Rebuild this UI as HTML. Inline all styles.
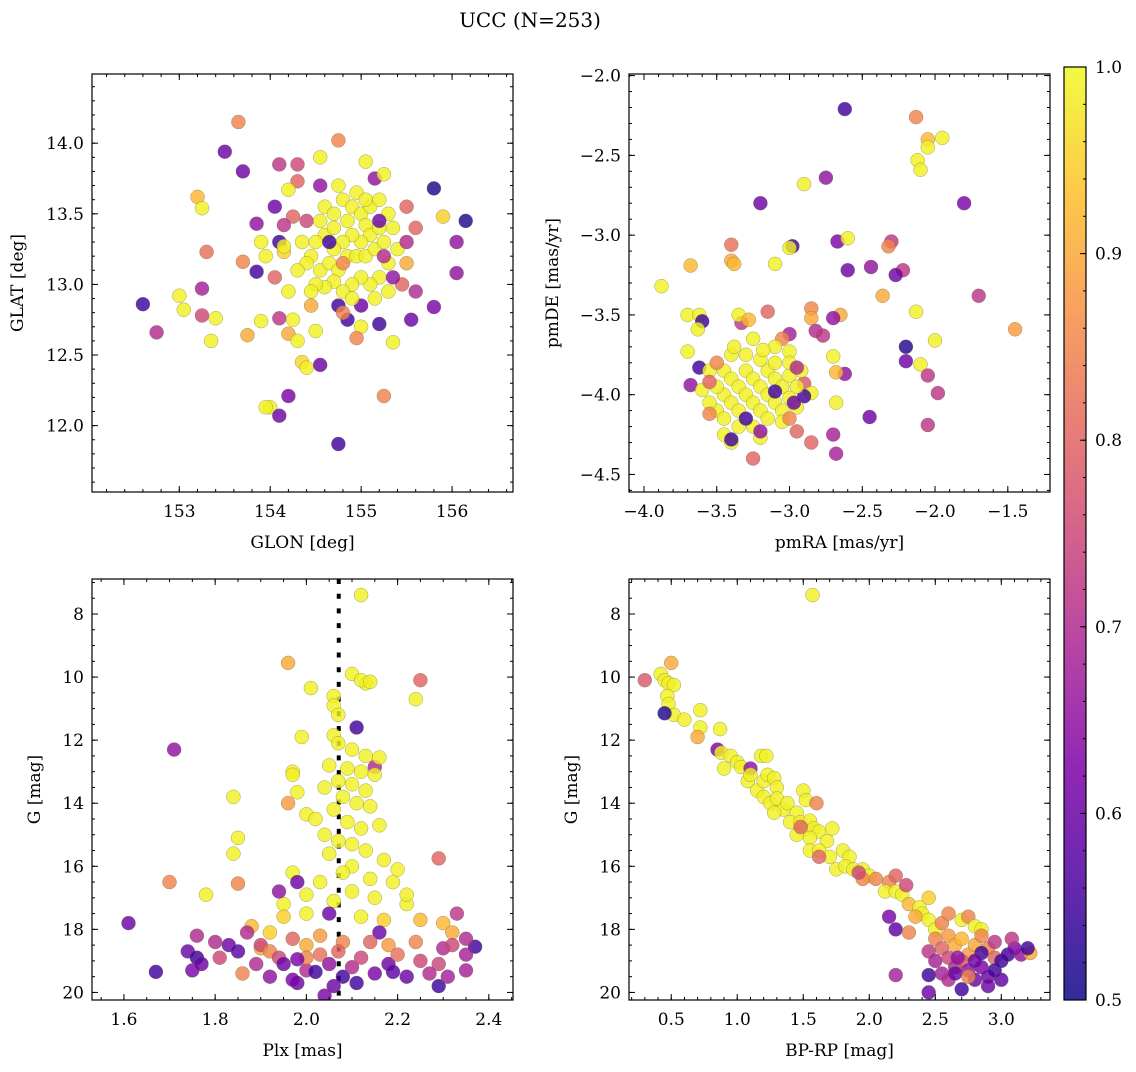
<!DOCTYPE html>
<html><head><meta charset="utf-8">
<style>
html,body{margin:0;padding:0;background:#fff;}
svg text{font-family:"DejaVu Serif","Liberation Serif",serif;fill:#000;}
</style></head>
<body>
<svg id="fig" width="1136" height="1067" viewBox="0 0 1136 1067" xmlns="http://www.w3.org/2000/svg">
<defs>
<linearGradient id="plasmaGrad" x1="0" y1="1" x2="0" y2="0">
<stop offset="0" stop-color="#0d0887"/><stop offset="0.125" stop-color="#4c02a1"/>
<stop offset="0.25" stop-color="#7e03a8"/><stop offset="0.375" stop-color="#a92395"/>
<stop offset="0.5" stop-color="#cc4778"/><stop offset="0.625" stop-color="#e56b5d"/>
<stop offset="0.75" stop-color="#f89441"/><stop offset="0.875" stop-color="#fdc328"/>
<stop offset="1" stop-color="#f0f921"/>
</linearGradient>
</defs>
<text x="530" y="27" font-size="20" text-anchor="middle">UCC (N=253)</text>
<rect x="1064" y="67" width="22" height="933" fill="url(#plasmaGrad)" fill-opacity="0.85" stroke="#000" stroke-width="1.2"/>
</svg>
<script>
// ---------- Panel 1: GLON vs GLAT ----------
const glon = [153.65,153.5,153.7,154.1,154.3,154.75,154.55,155.05,155.15,155.25,155.8,156.15,155.9,156.05,156.05,155.6,155.5,155.5,155.6,155.55,155.8,152.6,152.75,153.0,153.05,153.25,153.25,153.2,153.25,153.3,153.4,153.35,153.7,153.75,153.9,153.85,153.9,153.95,154.05,154.05,154.1,154.2,154.25,154.2,154.3,154.35,154.4,154.5,154.55,154.0,154.1,154.2,153.95,154.75,155.0,154.85,154.95,155.2,155.25,155.35,154.75,155.0,154.55,154.3,154.2,154.25,154.4,154.15,153.85,154.1,154.15,154.15,
154.6,154.7,154.8,154.85,154.9,155.0,155.05,155.1,155.0,154.9,154.8,154.7,154.6,154.5,154.45,154.55,154.65,154.75,154.85,154.95,155.05,155.15,155.2,155.25,155.3,155.2,155.1,155.0,154.9,154.8,154.7,154.6,154.5,154.4,154.35,154.3,154.45,155.35,155.4,155.1,155.2,154.95,154.75,155.3,155.15,154.9,155.05,154.7,154.55,155.3,
154.8,155.25,155.45,155.5,155.35,154.65,155.2,154.45,154.8];
const glat = [14.15,13.94,13.8,13.85,13.85,14.02,13.9,13.87,13.75,13.78,13.68,13.45,13.48,13.3,13.08,13.4,13.55,13.15,12.95,12.75,12.84,12.86,12.66,12.92,12.82,12.97,12.78,13.62,13.54,13.23,12.76,12.6,13.16,12.64,12.74,13.09,13.3,13.2,13.55,13.05,12.76,12.95,12.75,12.65,12.6,12.45,12.41,12.67,12.43,12.13,12.07,12.21,12.13,11.87,12.7,12.75,12.62,12.72,12.21,12.59,12.85,12.85,13.7,13.73,13.67,13.48,13.45,13.42,13.43,13.3,13.23,13.27,
13.55,13.5,13.6,13.45,13.55,13.5,13.42,13.35,13.3,13.35,13.3,13.25,13.35,13.3,13.2,13.1,13.15,13.1,13.2,13.2,13.2,13.25,13.4,13.3,13.15,13.05,13.0,13.05,13.0,12.95,13.02,12.98,13.0,13.15,13.3,13.1,12.95,13.4,13.25,13.55,13.6,13.65,13.7,12.95,12.9,12.9,13.6,13.4,13.45,13.5,
13.15,13.2,13.0,13.3,13.05,13.3,13.45,12.85,12.8];
const prob1 = [0.85,0.6,0.6,0.72,0.75,0.85,0.99,0.99,0.65,0.99,0.52,0.52,0.95,0.65,0.65,0.8,0.8,0.9,0.7,0.6,0.62,0.55,0.7,0.99,0.99,0.68,0.75,0.92,0.99,0.82,0.99,0.99,0.85,0.9,0.99,0.55,0.99,0.99,0.6,0.8,0.72,0.99,0.99,0.9,0.99,0.96,0.99,0.99,0.6,0.99,0.6,0.62,0.99,0.55,0.99,0.55,0.85,0.55,0.85,0.99,0.55,0.6,0.65,0.8,0.99,0.8,0.75,0.72,0.65,0.55,0.95,0.99,
0.99,0.99,0.99,0.99,0.99,0.99,0.99,0.99,0.99,0.99,0.99,0.99,0.99,0.99,0.99,0.99,0.99,0.99,0.99,0.99,0.99,0.99,0.99,0.99,0.99,0.99,0.99,0.99,0.99,0.99,0.99,0.99,0.99,0.99,0.99,0.99,0.99,0.99,0.99,0.99,0.99,0.99,0.99,0.99,0.99,0.99,0.99,0.99,0.99,0.99,
0.85,0.7,0.8,0.7,0.65,0.55,0.6,0.9,0.85];

// ---------- Panel 2: pmRA vs pmDE ----------
const pmra = [-2.62,-2.13,-2.05,-2.05,-1.95,-2.12,-2.1,-2.9,-2.75,-3.2,-1.8,-2.98,-3.4,-3.0,-2.67,-2.6,-2.3,-2.32,-3.4,-3.38,-3.1,-3.68,-2.44,-2.6,-2.22,-2.27,-3.88,-2.36,-1.7,-3.7,-3.62,-3.6,-3.63,-2.13,-2.0,-1.45,-2.2,-2.2,-2.1,-2.05,-1.98,-2.05,-2.45,-2.7,-2.68,-2.85,-2.95,-3.25,-2.85,-2.85,-2.65,-2.7,-2.82,-2.77,-3.15,-3.33,-3.35,-3.28,-3.0,-3.05,-3.0,-2.62,-2.68,-2.7,-2.9,-2.85,-2.9,-2.68,-3.7,-3.68,-3.62,-3.6,
-3.45,-3.4,-3.35,-3.3,-3.25,-3.2,-3.15,-3.1,-3.05,-3.0,-2.95,-3.45,-3.4,-3.35,-3.3,-3.25,-3.2,-3.15,-3.1,-3.05,-3.0,-2.95,-3.5,-3.5,-3.45,-3.35,-3.25,-3.15,-3.05,-3.4,-3.3,-3.2,-3.1,-3.0,-3.55,-3.55,-3.45,-3.4,-3.2,-2.92,-3.1,-3.38,-3.25,-3.18,
-3.55,-3.5,-3.4,-3.3,-3.1,-2.97,-2.95,-3.2,-3.0,-3.55];
const pmde = [-2.21,-2.26,-2.4,-2.45,-2.39,-2.53,-2.59,-2.68,-2.64,-2.8,-2.8,-3.07,-3.06,-3.08,-3.04,-3.02,-3.04,-3.07,-3.16,-3.18,-3.18,-3.19,-3.2,-3.22,-3.22,-3.25,-3.32,-3.38,-3.38,-3.5,-3.5,-3.54,-3.59,-3.48,-3.66,-3.59,-3.7,-3.79,-3.81,-3.88,-3.99,-4.19,-4.14,-4.25,-4.37,-4.3,-4.23,-4.4,-3.46,-3.52,-3.5,-3.52,-3.6,-3.63,-3.48,-3.55,-3.5,-3.53,-3.62,-3.65,-3.73,-3.87,-3.86,-3.76,-3.93,-3.99,-4.01,-4.05,-3.73,-3.94,-3.83,-3.97,
-3.85,-3.9,-3.95,-3.85,-3.9,-3.95,-3.85,-3.9,-3.95,-3.88,-3.95,-4.0,-4.05,-4.1,-4.0,-4.05,-4.1,-4.0,-4.05,-4.1,-4.02,-4.08,-3.95,-4.1,-4.15,-4.2,-4.2,-4.15,-4.17,-3.75,-3.75,-3.78,-3.8,-3.8,-3.85,-4.05,-4.25,-4.3,-4.27,-3.85,-3.7,-3.7,-3.65,-3.72,
-4.12,-3.8,-4.28,-4.15,-3.98,-4.05,-3.83,-4.23,-4.15,-3.92];
const prob2 = [0.55,0.85,0.92,0.99,0.99,0.99,0.99,0.99,0.65,0.6,0.62,0.55,0.82,0.99,0.62,0.99,0.72,0.85,0.9,0.92,0.99,0.92,0.65,0.6,0.72,0.6,0.99,0.9,0.72,0.99,0.99,0.55,0.99,0.99,0.99,0.88,0.52,0.6,0.99,0.72,0.72,0.72,0.6,0.68,0.68,0.8,0.8,0.8,0.85,0.9,0.9,0.65,0.7,0.72,0.8,0.72,0.99,0.92,0.68,0.85,0.99,0.65,0.92,0.99,0.78,0.99,0.55,0.99,0.99,0.65,0.55,0.99,
0.99,0.99,0.99,0.99,0.99,0.99,0.99,0.99,0.99,0.99,0.99,0.99,0.99,0.99,0.99,0.99,0.99,0.99,0.99,0.99,0.99,0.99,0.99,0.99,0.99,0.99,0.99,0.99,0.99,0.99,0.99,0.99,0.99,0.99,0.99,0.99,0.99,0.99,0.99,0.99,0.99,0.99,0.99,0.99,
0.85,0.85,0.55,0.55,0.55,0.6,0.7,0.65,0.85,0.8];

// ---------- Panel 3: Plx vs G ----------
const plx = [2.12,1.96,2.25,2.1,2.13,2.12,2.14,2.01,2.06,2.06,2.07,2.24,2.11,1.99,2.06,1.71,2.15,1.97,1.97,1.84,1.96,1.98,2.0,1.7,1.78,1.85,1.84,1.85,2.29,1.61,1.67,2.29,2.37,
2.07,2.1,2.13,2.16,2.05,2.09,2.12,2.15,2.07,2.1,2.04,2.13,2.08,2.11,2.14,2.06,2.02,2.09,2.12,2.16,2.04,2.07,2.1,2.13,2.05,2.17,2.1,2.08,2.14,2.03,2.19,2.1,2.0,2.15,2.06,2.22,1.97,2.2,1.95,2.0,2.12,2.22,
1.88,1.92,1.95,2.03,2.0,2.08,2.17,2.25,2.3,2.32,2.18,1.9,1.76,1.87,1.94,1.98,2.05,2.16,2.3,2.29,2.35,2.33,2.24,
1.74,1.76,1.8,1.81,1.75,1.77,1.83,1.85,1.86,1.9,1.92,1.94,1.97,1.95,1.92,1.98,2.0,2.03,2.05,2.08,2.06,2.04,2.1,2.12,2.15,2.18,2.2,2.22,2.25,2.27,2.31,2.35,2.35,2.32,2.11,2.02,1.97,1.89,2.0,2.14,2.19,2.07,1.98];
const gmag3 = [7.4,9.55,10.1,9.9,10.2,10.1,10.15,10.35,10.6,10.9,11.2,10.7,11.6,11.9,11.85,12.3,12.85,13.0,13.1,13.8,14.0,13.65,14.35,16.5,16.9,15.1,15.6,16.55,15.75,17.8,19.35,19.8,18.55,
12.1,12.3,12.5,12.55,12.8,12.9,13.0,13.1,13.3,13.4,13.5,13.6,13.8,14.0,14.1,14.2,14.5,14.6,14.8,14.7,15.0,15.2,15.3,15.5,15.6,15.8,16.0,16.2,16.4,16.5,16.5,16.8,16.9,17.0,17.1,17.2,16.2,16.1,17.2,17.5,17.6,16.9,
17.9,18.1,17.6,18.2,18.5,18.4,17.7,17.7,17.8,18.1,18.5,18.6,18.2,18.1,16.8,16.5,17.5,18.1,18.6,19.1,18.3,17.5,18.4,
18.7,18.9,18.4,18.9,19.3,19.1,18.5,18.7,19.4,18.5,18.7,18.9,18.3,19.1,19.5,19.7,19.3,18.8,19.1,19.5,19.8,20.1,19.2,18.9,19.4,19.1,18.8,19.5,19.0,19.4,19.5,18.8,19.3,18.5,19.7,19.35,19.6,19.1,18.9,18.4,19.35,18.7,18.95];
const prob3 = [0.99,0.9,0.8,0.99,0.99,0.99,0.99,0.99,0.99,0.99,0.99,0.99,0.55,0.99,0.99,0.65,0.7,0.99,0.99,0.99,0.88,0.99,0.99,0.85,0.99,0.99,0.99,0.85,0.8,0.6,0.55,0.55,0.55,
0.99,0.99,0.99,0.99,0.99,0.99,0.99,0.99,0.99,0.99,0.99,0.99,0.99,0.99,0.99,0.99,0.99,0.99,0.99,0.99,0.99,0.99,0.99,0.99,0.99,0.99,0.99,0.99,0.99,0.99,0.99,0.99,0.99,0.99,0.99,0.99,0.99,0.99,0.99,0.99,0.99,0.99,
0.92,0.95,0.95,0.88,0.9,0.85,0.95,0.92,0.92,0.9,0.88,0.9,0.7,0.7,0.65,0.6,0.6,0.6,0.7,0.75,0.7,0.72,0.85,
0.6,0.55,0.7,0.75,0.62,0.6,0.6,0.58,0.85,0.75,0.85,0.75,0.8,0.6,0.65,0.6,0.7,0.82,0.65,0.55,0.6,0.62,0.7,0.75,0.62,0.6,0.82,0.6,0.75,0.7,0.68,0.68,0.68,0.75,0.55,0.55,0.62,0.7,0.85,0.8,0.58,0.8,0.62];

// ---------- Panel 4: BP-RP vs G ----------
const bprp = [1.57,0.3,0.5,0.42,0.45,0.48,0.52,0.47,0.48,0.52,0.45,0.6,0.72,0.72,0.7,0.87,0.85,0.88,0.95,1.0,0.9,1.03,1.1,1.08,1.1,1.18,1.22,1.15,1.2,1.23,1.28,1.3,1.2,1.25,1.3,1.35,1.28,1.38,1.45,1.5,1.52,1.6,1.4,1.48,1.55,1.5,1.58,1.62,1.45,1.55,1.48,
1.72,1.68,1.55,1.62,1.7,1.8,1.85,1.62,1.75,1.82,1.88,1.95,2.0,1.95,2.05,2.15,1.92,2.12,2.2,2.25,2.2,2.28,
2.3,2.38,2.4,2.35,2.45,2.45,2.5,2.55,2.6,2.7,2.75,2.8,2.85,2.15,2.2,
2.5,2.55,2.6,2.65,2.7,2.75,2.8,2.85,2.9,2.95,2.6,2.65,2.7,2.75,2.8,2.85,2.9,2.95,3.0,3.05,3.1,3.08,3.15,3.22,3.2,2.55,2.6,2.7,2.75,2.9,3.0,2.45,2.5,2.2,2.45,2.45,2.65,2.85,2.95,2.8,2.67,2.3];
const gmag4 = [7.4,10.1,9.55,9.9,10.1,10.2,10.25,10.6,10.85,11.2,11.15,11.35,11.05,11.6,11.9,11.65,12.3,12.4,12.5,12.7,12.9,12.85,12.9,13.3,13.1,12.5,12.5,13.6,13.3,13.1,13.2,13.5,13.8,14.0,13.85,14.2,14.3,14.0,14.3,13.6,13.9,14.0,14.6,14.6,14.55,14.85,14.8,14.9,15.0,15.1,14.75,
14.8,15.2,15.5,15.5,15.7,15.5,15.7,15.7,16.1,16.0,16.1,16.1,16.3,16.4,16.4,16.5,16.2,16.8,16.8,16.9,16.3,16.6,
17.2,17.3,17.5,17.6,17.0,17.7,18.0,17.8,17.5,17.7,17.6,17.9,18.0,17.6,18.0,
18.3,18.6,18.2,18.5,18.3,18.8,18.5,18.2,18.6,18.9,18.9,19.2,19.0,19.3,19.6,19.2,19.5,19.3,19.0,18.8,18.6,18.3,18.8,18.75,18.6,19.4,19.6,19.9,19.5,19.8,19.6,18.7,19.0,19.45,19.45,20.0,19.4,18.75,18.4,19.0,18.9,18.1];
const prob4 = [0.99,0.78,0.9,0.99,0.99,0.99,0.99,0.99,0.99,0.99,0.52,0.99,0.99,0.99,0.9,0.99,0.62,0.99,0.99,0.99,0.99,0.99,0.65,0.99,0.99,0.99,0.99,0.99,0.99,0.99,0.99,0.99,0.99,0.99,0.99,0.99,0.99,0.99,0.99,0.99,0.99,0.85,0.99,0.99,0.99,0.99,0.99,0.99,0.99,0.99,0.8,
0.99,0.99,0.99,0.99,0.99,0.99,0.99,0.8,0.99,0.99,0.99,0.99,0.99,0.85,0.85,0.85,0.75,0.99,0.99,0.99,0.8,0.75,
0.92,0.99,0.99,0.9,0.95,0.99,0.99,0.85,0.85,0.99,0.85,0.99,0.99,0.62,0.58,
0.85,0.8,0.88,0.9,0.92,0.88,0.9,0.85,0.85,0.8,0.75,0.7,0.78,0.65,0.6,0.62,0.6,0.55,0.55,0.55,0.62,0.72,0.65,0.9,0.55,0.68,0.7,0.55,0.85,0.6,0.58,0.72,0.68,0.68,0.55,0.6,0.6,0.55,0.72,0.6,0.65,0.85];

// colorbar tick values
const cbarTicks = [0.5,0.6,0.7,0.8,0.9,1.0];

// ---------- rendering ----------
const NS = "http://www.w3.org/2000/svg";
const svg = document.getElementById('fig');
function mk(tag, attrs, parent){const e=document.createElementNS(NS,tag);for(const k in attrs)e.setAttribute(k,attrs[k]);(parent||svg).appendChild(e);return e;}
const stops=[[13,8,135],[76,2,161],[126,3,168],[169,35,149],[204,71,120],[229,107,93],[248,148,65],[253,195,40],[240,249,33]];
function plasma(p){let t=(p-0.5)/0.5;t=Math.max(0,Math.min(1,t));const s=t*8;const i=Math.min(7,Math.floor(s));const f=s-i;const a=stops[i],b=stops[i+1];
return 'rgb('+a.map((v,k)=>Math.round(v+(b[k]-v)*f)).join(',')+')';}
function fmt(v,dec){return v.toFixed(dec).replace('-','\u2212');}
const FS=17;

function panel(cfg){
  const {name,x0,x1,y0,y1,xmin,xmax,ymin,ymax,xt,yt,xminor,yminor,xdec,ydec,xlabel,ylabel,xs,ys,ps,ylx,invert}=cfg;
  const g=mk('g',{});
  
  
  const sx=v=>x0+(v-xmin)/(xmax-xmin)*(x1-x0);
  const sy=v=>invert ? y0+(v-ymin)/(ymax-ymin)*(y1-y0) : y0+(ymax-v)/(ymax-ymin)*(y1-y0);
  const clip=mk('clipPath',{id:name+'-clip'},g);
  mk('rect',{x:x0,y:y0,width:x1-x0,height:y1-y0},clip);
  const pts=mk('g',{'clip-path':'url(#'+name+'-clip)'},g);
  
  
  if(cfg.vline!==undefined){
    const l=mk('line',{x1:sx(cfg.vline),x2:sx(cfg.vline),y1:y0,y2:y1,stroke:'#000','stroke-width':4,'stroke-dasharray':'5 9.7'},pts);
    
    
  }
  for(let i=0;i<xs.length;i++){
    const c=mk('circle',{cx:sx(xs[i]).toFixed(1),cy:sy(ys[i]).toFixed(1),r:7,fill:plasma(ps[i]),'fill-opacity':0.82,stroke:'#6b6b4a','stroke-opacity':0.6,'stroke-width':0.5},pts);
    
    
  }
  mk('rect',{x:x0,y:y0,width:x1-x0,height:y1-y0,fill:'none',stroke:'#000','stroke-width':1.2},g);
  const tk=mk('g',{stroke:'#000','stroke-width':1},g);
  const eps=1e-9;
  for(let k=Math.ceil(xmin/xminor-eps); k*xminor<=xmax+eps; k++){const X=sx(k*xminor);mk('line',{x1:X,x2:X,y1:y1,y2:y1-3},tk);mk('line',{x1:X,x2:X,y1:y0,y2:y0+3},tk);}
  for(let k=Math.ceil(ymin/yminor-eps); k*yminor<=ymax+eps; k++){const Y=sy(k*yminor);mk('line',{x1:x0,x2:x0+3,y1:Y,y2:Y},tk);mk('line',{x1:x1,x2:x1-3,y1:Y,y2:Y},tk);}
  xt.forEach(v=>{const X=sx(v);mk('line',{x1:X,x2:X,y1:y1,y2:y1-6},tk);mk('line',{x1:X,x2:X,y1:y0,y2:y0+6},tk);
    const t=mk('text',{x:X,y:y1+25,'font-size':FS,'text-anchor':'middle'},g);t.textContent=fmt(v,xdec);
    
    });
  yt.forEach(v=>{const Y=sy(v);mk('line',{x1:x0,x2:x0+6,y1:Y,y2:Y},tk);mk('line',{x1:x1,x2:x1-6,y1:Y,y2:Y},tk);
    const t=mk('text',{x:x0-8,y:Y+6,'font-size':FS,'text-anchor':'end'},g);t.textContent=fmt(v,ydec);
    
    });
  const xl=mk('text',{x:(x0+x1)/2,y:y1+56,'font-size':FS,'text-anchor':'middle'},g);xl.textContent=xlabel;
  
  
  const yc=(y0+y1)/2;
  const yl=mk('text',{x:ylx,y:yc,'font-size':FS,'text-anchor':'middle',transform:'rotate(-90 '+ylx+' '+yc+')'},g);yl.textContent=ylabel;
  
  
}

panel({name:'glon-glat-panel',x0:92,x1:513,y0:74,y1:492,xmin:152.04,xmax:156.67,ymin:11.53,ymax:14.49,xt:[153,154,155,156],yt:[12,12.5,13,13.5,14],xminor:0.2,yminor:0.1,xdec:0,ydec:1,xlabel:'GLON [deg]',ylabel:'GLAT [deg]',xs:glon,ys:glat,ps:prob1,ylx:23});
panel({name:'pm-panel',x0:629,x1:1050,y0:74,y1:492,xmin:-4.103,xmax:-1.21,ymin:-4.61,ymax:-1.99,xt:[-4,-3.5,-3,-2.5,-2,-1.5],yt:[-4.5,-4,-3.5,-3,-2.5,-2],xminor:0.1,yminor:0.1,xdec:1,ydec:1,xlabel:'pmRA [mas/yr]',ylabel:'pmDE [mas/yr]',xs:pmra,ys:pmde,ps:prob2,ylx:558});
panel({name:'plx-g-panel',x0:92,x1:513,y0:579,y1:1000,xmin:1.530,xmax:2.453,ymin:6.89,ymax:20.24,xt:[1.6,1.8,2.0,2.2,2.4],yt:[8,10,12,14,16,18,20],xminor:0.05,yminor:0.5,xdec:1,ydec:0,xlabel:'Plx [mas]',ylabel:'G [mag]',xs:plx,ys:gmag3,ps:prob3,ylx:40,vline:2.071,invert:true});
panel({name:'cmd-panel',x0:629,x1:1050,y0:579,y1:1000,xmin:0.18,xmax:3.369,ymin:6.89,ymax:20.24,xt:[0.5,1.0,1.5,2.0,2.5,3.0],yt:[8,10,12,14,16,18,20],xminor:0.1,yminor:0.5,xdec:1,ydec:0,xlabel:'BP-RP [mag]',ylabel:'G [mag]',xs:bprp,ys:gmag4,ps:prob4,ylx:577,invert:true});

// colorbar ticks
(function(){
  const cy0=67, cy1=1000, cx1=1086;
  const sc=v=>cy1-(v-0.5)/0.5*(cy1-cy0);
  const g=mk('g',{stroke:'#000','stroke-width':1});
  
  
  for(let k=25;k<=50;k++){const Y=sc(k*0.02);mk('line',{x1:cx1,x2:cx1-3,y1:Y,y2:Y},g);}
  cbarTicks.forEach(v=>{const Y=sc(v);mk('line',{x1:cx1,x2:cx1-6,y1:Y,y2:Y},g);
    const t=mk('text',{x:1095,y:Y+6,'font-size':FS,'text-anchor':'start'});t.textContent=v.toFixed(1);
    
    });
})();
</script>
</body></html>
